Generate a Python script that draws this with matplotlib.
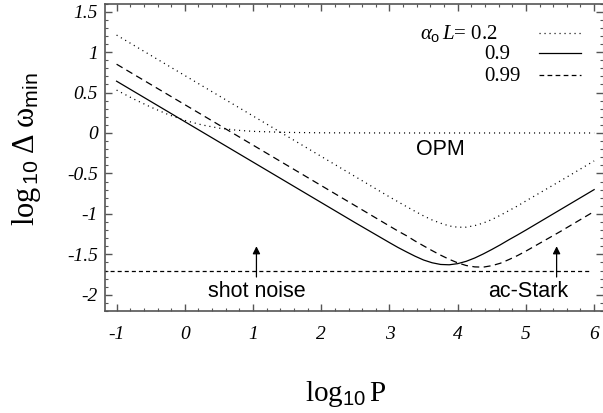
import numpy as np
import matplotlib
matplotlib.use("Agg")
import matplotlib.pyplot as plt
from matplotlib.ticker import MultipleLocator

# values (log10 P  vs  log10 delta omega_min)
log_p = [-1, -0.5, 0, 0.5, 1, 1.5, 2, 2.5, 3, 3.125, 3.25, 3.375, 3.5, 3.625, 3.75, 3.875,
         4, 4.125, 4.25, 4.375, 4.5, 4.625, 4.75, 4.875, 5, 5.5, 6]
al_02 = [1.21, 0.96, 0.71, 0.46, 0.21, -0.04, -0.29, -0.54, -0.79, -0.85, -0.91, -0.968,
         -1.025, -1.075, -1.115, -1.149, -1.165, -1.164, -1.145, -1.113, -1.07, -1.017,
         -0.96, -0.903, -0.84, -0.595, -0.345]
al_09 = [0.64, 0.39, 0.14, -0.11, -0.36, -0.61, -0.86, -1.11, -1.355, -1.415, -1.47, -1.523,
         -1.57, -1.604, -1.625, -1.629, -1.615, -1.586, -1.545, -1.495, -1.44, -1.382,
         -1.32, -1.261, -1.20, -0.95, -0.70]
al_099 = [0.85, 0.60, 0.35, 0.10, -0.15, -0.40, -0.65, -0.90, -1.15, -1.212, -1.27, -1.335,
          -1.395, -1.454, -1.51, -1.561, -1.605, -1.638, -1.655, -1.658, -1.64, -1.61,
          -1.565, -1.516, -1.46, -1.22, -0.97]

# OPM branch of the 0.2 curve
opm_p = [-1, -0.75, -0.5, -0.25, 0, 0.25, 0.5, 0.75, 1, 1.5, 2, 3, 6]
opm_w = [0.53, 0.42, 0.32, 0.23, 0.155, 0.10, 0.06, 0.035, 0.02, 0.007, 0.002, 0, 0]

shot_noise = -1.7
shot_p = [-1.2, 5.95]
arrow_p = [1.05, 5.45]
arrow_y = [-1.78, -1.40]

plt.rcParams['mathtext.fontset'] = 'custom'
plt.rcParams['mathtext.rm'] = 'Liberation Serif'
plt.rcParams['mathtext.it'] = 'Liberation Serif:italic'
plt.rcParams['mathtext.sf'] = 'Liberation Sans'
plt.rcParams['lines.scale_dashes'] = False

fig = plt.figure(figsize=(6.03, 4.13), dpi=100)
ax = fig.add_axes([0.174, 0.247, 0.826, 0.7445])

dot = (0, (0.8, 2.8))
dash = (0, (5.0, 3.2))
ax.plot(log_p, al_02, color='k', lw=0.9, linestyle=dot)
ax.plot(opm_p, opm_w, color='k', lw=0.9, linestyle=dot)
ax.plot(log_p, al_09, color='k', lw=0.9)
ax.plot(log_p, al_099, color='k', lw=0.9, linestyle=dash)
ax.plot(shot_p, [shot_noise, shot_noise], color='k', lw=0.9, linestyle=(0, (2.9, 2.2)))

for xp in arrow_p:
    ax.annotate('', xy=(xp, arrow_y[1]), xytext=(xp, arrow_y[0]),
                arrowprops=dict(arrowstyle='-|>', color='k', lw=0.9,
                                mutation_scale=11, shrinkA=0, shrinkB=0))

sans = dict(family='Liberation Sans', fontsize=15.5, ha='center', va='center')
ax.text(1.06, -1.96, 'shot noise', **sans)
ax.text(5.03, -1.96, 'ac-Stark', **sans)
ax.text(3.75, -0.21, 'OPM', **sans)

# legend drawn by hand
serif = dict(family='Liberation Serif', fontsize=15, ha='left', va='center',
             transform=ax.transAxes)
ax.text(0.632, 0.904, r'$\alpha_{\mathsf{o}}\,\mathit{L}$= 0.2', **serif)
ax.text(0.761, 0.834, '0.9', **serif)
ax.text(0.761, 0.764, '0.99', **serif)
ax.plot([0.871, 0.956], [0.905, 0.905], transform=ax.transAxes, color='k', lw=0.9, linestyle=dot)
ax.plot([0.871, 0.956], [0.838, 0.838], transform=ax.transAxes, color='k', lw=0.9)
ax.plot([0.871, 0.956], [0.767, 0.767], transform=ax.transAxes, color='k', lw=0.9,
        linestyle=(0, (3.4, 2.4)))

ax.set_xlim(-1.171, 6.13)
ax.set_ylim(-2.2, 1.60)
ax.xaxis.set_minor_locator(MultipleLocator(0.2))
ax.yaxis.set_minor_locator(MultipleLocator(0.1))

ax.tick_params(which='both', direction='in', top=True, right=True, color='#555555')
ax.tick_params(which='major', length=5, width=1)
ax.tick_params(which='minor', length=2.5, width=0.8)
ax.tick_params(axis='y', which='major', pad=5)
ax.tick_params(axis='x', which='major', pad=11)

tick_font = dict(family='Liberation Serif', style='italic', fontsize=14)
ax.set_yticks([-2, -1.5, -1, -0.5, 0, 0.5, 1, 1.5])
ax.set_yticklabels(['-2', '-1.5', '-1', '-0.5', '0', '0.5', '1', '1.5'], **tick_font)
ax.set_xticks(range(-1, 7))
ax.set_xticklabels([str(v) for v in range(-1, 7)], **tick_font)

for side in ['left', 'bottom', 'top']:
    ax.spines[side].set_color('#555555')
    ax.spines[side].set_linewidth(1.2)
ax.spines['right'].set_color('#bbbbbb')

ax.set_xlabel(r'$\mathrm{log}_{\mathsf{10}}\,\mathrm{P}$', fontsize=21)
ax.set_ylabel(r'$\mathrm{log}_{\,\mathsf{10}}\;\Delta\;\mathrm{\omega}_{\mathsf{min}}$', fontsize=22)
ax.xaxis.set_label_coords(0.483, -0.22)
ax.yaxis.set_label_coords(-0.125, 0.525)

fig.savefig('out.png', dpi=100)
